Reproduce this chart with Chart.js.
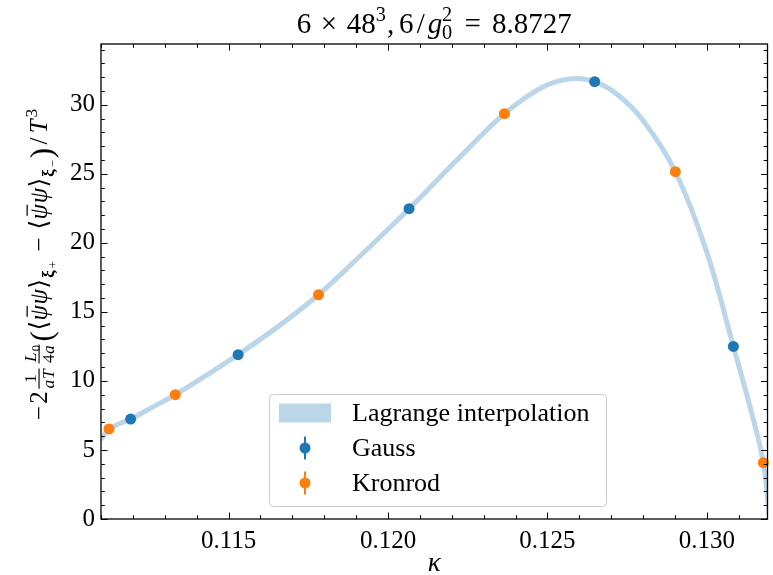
<!DOCTYPE html>
<html>
<head>
<meta charset="utf-8">
<script src="https://cdn.jsdelivr.net/npm/chart.js@4.4.1/dist/chart.umd.min.js"></script>
<style>
  html, body { margin: 0; padding: 0; background: #ffffff; }
  #c { display: block; }
</style>
</head>
<body>
<canvas id="c" width="773" height="575"></canvas>
<script>
// Gauss nodes and their measured values
const kappaGauss = [0.11193, 0.11530, 0.12066, 0.12648, 0.13083];
const valueGauss = [7.24, 11.90, 22.47, 31.67, 12.50];

// Kronrod extension nodes and their measured values
const kappaKronrod = [0.11125, 0.11333, 0.11782, 0.12365, 0.12901, 0.13177];
const valueKronrod = [6.52, 9.00, 16.24, 29.35, 25.15, 4.08];

// Samples along the interpolating polynomial
const kappaCurve = [0.11100, 0.11125, 0.11193, 0.11262, 0.11333, 0.11430, 0.11530, 0.11656,
                    0.11782, 0.11924, 0.12066, 0.12216, 0.12365, 0.12470, 0.12530, 0.12590,
                    0.12648, 0.12720, 0.12800, 0.12901, 0.13000, 0.13083, 0.13140, 0.13177,
                    0.13200];
const valueCurve = [5.75, 6.52, 7.24, 8.10, 9.00, 10.40, 11.90, 13.95,
                    16.24, 19.30, 22.47, 26.00, 29.35, 31.10, 31.70, 31.90,
                    31.67, 30.73, 28.86, 25.15, 19.30, 12.50, 7.70, 4.08,
                    -0.80];

const xTicks = [0.115, 0.120, 0.125, 0.130];
const yTicks = [0, 5, 10, 15, 20, 25, 30];
const xRange = [0.111, 0.1319];
const yRange = [0, 34.4];

const labels = {
  curve: 'Lagrange interpolation',
  gauss: 'Gauss',
  kronrod: 'Kronrod'
};

const C0 = '#1f77b4';
const C1 = '#ff7f0e';
const C0faint = 'rgba(31,119,180,0.3)';
const SERIF = '"Liberation Serif", "DejaVu Serif", serif';

function fontOf(size, italic, bold) {
  return (italic ? 'italic ' : '') + (bold ? 'bold ' : '') + size.toFixed(2) + 'px ' + SERIF;
}

// Minimal typesetter: glyph runs with optional fixed advances (em), scripts, fractions, gaps
function run(ctx, items, x, y, S, draw) {
  let cx = x;
  for (const it of items) {
    if (it.gap !== undefined) { cx += it.gap * S; continue; }
    if (it.frac) {
      const fs = S * 0.7;
      const wn = run(ctx, it.frac[0], 0, 0, fs, false);
      const wd = run(ctx, it.frac[1], 0, 0, fs, false);
      const w = it.adv ? it.adv * S : Math.max(wn, wd) + S * 0.24;
      if (draw) {
        const bar = y - S * 0.32;
        run(ctx, it.frac[0], cx + (w - wn) / 2, y - S * 0.44, fs, true);
        run(ctx, it.frac[1], cx + (w - wd) / 2, y + S * 0.27, fs, true);
        ctx.save();
        ctx.lineWidth = Math.max(1, S * 0.045);
        ctx.beginPath();
        ctx.moveTo(cx + S * 0.1, bar);
        ctx.lineTo(cx + w - S * 0.1, bar);
        ctx.stroke();
        ctx.restore();
      }
      cx += w;
      continue;
    }
    if (it.ss) {
      const fs = S * 0.7;
      ctx.font = fontOf(fs, false, false);
      const w1 = ctx.measureText(it.ss[0]).width;
      const w2 = ctx.measureText(it.ss[1]).width;
      if (draw) {
        ctx.fillText(it.ss[0], cx, y - S * 0.42);
        ctx.fillText(it.ss[1], cx, y + S * 0.22);
      }
      cx += Math.max(w1, w2) + S * 0.04;
      continue;
    }
    const fs = S * (it.s || 1);
    ctx.font = fontOf(fs, it.i, it.b);
    const w = ctx.measureText(it.t).width;
    const adv = it.adv ? it.adv * S : w;
    const gx = cx + (adv - w) / 2;
    const yy = y - (it.dy || 0) * S;
    if (draw) {
      ctx.fillText(it.t, gx, yy);
      if (it.bar) {
        ctx.save();
        ctx.lineWidth = Math.max(1, fs * 0.05);
        ctx.beginPath();
        ctx.moveTo(gx + w * 0.25, yy - fs * 0.80);
        ctx.lineTo(gx + w * 0.95, yy - fs * 0.80);
        ctx.stroke();
        ctx.restore();
      }
    }
    cx += adv;
  }
  return cx - x;
}

const titleItems = [
  { t: '6' }, { gap: 0.222 }, { t: '\u00d7', adv: 0.778 }, { gap: 0.222 }, { t: '48' },
  { t: '3', s: 0.7, dy: 0.42 }, { gap: 0.04 }, { t: ',' }, { gap: 0.167 }, { t: '6' }, { t: '/', adv: 0.5 },
  { t: 'g', i: true, adv: 0.48 }, { ss: ['2', '0'] }, { gap: 0.278 }, { t: '=', adv: 0.778 }, { gap: 0.278 },
  { t: '8.8727' }
];

const bracket = (sign) => [
  { t: '\u27e8', adv: 0.389 }, { t: '\u03c8', i: true, bar: true, adv: 0.651 },
  { t: '\u03c8', i: true, adv: 0.651 }, { t: '\u27e9', adv: 0.389 },
  { t: '\u03be', b: true, s: 0.7, dy: -0.3, adv: 0.385 }, { t: sign, s: 0.5, dy: -0.42, adv: 0.389 }
];

const yLabelItems = [
  { t: '\u2212', adv: 0.778 }, { t: '2', adv: 0.5 },
  { frac: [[{ t: '1' }], [{ t: 'a', i: true, adv: 0.53 }, { t: 'T', i: true, adv: 0.62 }]], adv: 1.02 },
  { frac: [[{ t: 'L', i: true, adv: 0.68 }, { t: '0', s: 0.72, dy: -0.25 }],
           [{ t: '4' }, { t: 'a', i: true, adv: 0.53 }]], adv: 0.97 },
  { t: '(', s: 1.25, dy: -0.22, adv: 0.458 }
].concat(bracket('+'), [{ gap: 0.222 }, { t: '\u2212', adv: 0.778 }, { gap: 0.222 }], bracket('\u2212'), [
  { t: ')', s: 1.25, dy: -0.22, adv: 0.458 }, { t: '/', adv: 0.5 }, { t: 'T', i: true, adv: 0.7 },
  { t: '3', s: 0.7, dy: 0.42, adv: 0.35 }
]);

// Frame, inward ticks on all sides, titles and the legend
const decorations = {
  id: 'decorations',
  afterDatasetsDraw(chart) {
    const ctx = chart.ctx;
    const a = chart.chartArea;
    const xs = chart.scales.x, ys = chart.scales.y;
    ctx.save();
    ctx.strokeStyle = '#000';
    ctx.fillStyle = '#000';

    const tick = (px, len, vertical) => {
      ctx.beginPath();
      if (vertical) {
        ctx.moveTo(px, a.bottom); ctx.lineTo(px, a.bottom - len);
        ctx.moveTo(px, a.top); ctx.lineTo(px, a.top + len);
      } else {
        ctx.moveTo(a.left, px); ctx.lineTo(a.left + len, px);
        ctx.moveTo(a.right, px); ctx.lineTo(a.right - len, px);
      }
      ctx.stroke();
    };
    ctx.lineWidth = 1;
    for (let k = 111; k <= 131; k++) {
      const v = k / 1000;
      const major = xTicks.some(t => Math.abs(t - v) < 1e-9);
      tick(Math.round(xs.getPixelForValue(v)) + 0.5, major ? 6.5 : 3.8, true);
    }
    for (let v = 0; v <= 34; v++) {
      const major = yTicks.includes(v);
      tick(Math.round(ys.getPixelForValue(v)) + 0.5, major ? 6.5 : 3.8, false);
    }

    ctx.lineWidth = 1.3;
    ctx.strokeRect(a.left, a.top, a.right - a.left, a.bottom - a.top);

    // title
    ctx.textBaseline = 'alphabetic';
    const TS = 29;
    const tw = run(ctx, titleItems, 0, 0, TS, false);
    run(ctx, titleItems, (a.left + a.right) / 2 - tw / 2, 33, TS, true);

    // x axis label
    ctx.font = fontOf(27, true, false);
    ctx.textAlign = 'center';
    ctx.fillText('\u03ba', (a.left + a.right) / 2, 571);
    ctx.textAlign = 'left';

    // y axis label, rotated
    const YS = 24.8;
    ctx.save();
    ctx.translate(47, 423);
    ctx.rotate(-Math.PI / 2);
    run(ctx, yLabelItems, 0, 0, YS, true);
    ctx.restore();

    // legend
    const bx = 269.5, by = 394.5, bw = 337, bh = 112, r = 4;
    ctx.beginPath();
    ctx.moveTo(bx + r, by);
    ctx.arcTo(bx + bw, by, bx + bw, by + bh, r);
    ctx.arcTo(bx + bw, by + bh, bx, by + bh, r);
    ctx.arcTo(bx, by + bh, bx, by, r);
    ctx.arcTo(bx, by, bx + bw, by, r);
    ctx.closePath();
    ctx.fillStyle = 'rgba(255,255,255,0.8)';
    ctx.fill();
    ctx.strokeStyle = '#cccccc';
    ctx.lineWidth = 1;
    ctx.stroke();

    const ds = chart.data.datasets;
    const rows = [413, 448, 483];
    ctx.fillStyle = ds[0].borderColor;
    ctx.fillRect(279, rows[0] - 9.5, 52, 19);
    [1, 2].forEach(i => {
      const yy = rows[i];
      ctx.strokeStyle = ds[i].backgroundColor;
      ctx.lineWidth = 2;
      ctx.beginPath();
      ctx.moveTo(305, yy - 11.5); ctx.lineTo(305, yy + 11.5);
      ctx.stroke();
      ctx.fillStyle = ds[i].backgroundColor;
      ctx.beginPath();
      ctx.arc(305, yy, 5.5, 0, Math.PI * 2);
      ctx.fill();
    });
    ctx.fillStyle = '#000';
    ctx.font = fontOf(26, false, false);
    ctx.textBaseline = 'middle';
    ds.forEach((d, i) => ctx.fillText(d.label, 352, rows[i] + 1));
    ctx.restore();
  }
};

const pts = (xs, ys) => xs.map((k, i) => ({ x: k, y: ys[i] }));

new Chart(document.getElementById('c'), {
  type: 'scatter',
  data: {
    datasets: [
      {
        label: labels.curve,
        type: 'line',
        data: pts(kappaCurve, valueCurve),
        borderColor: C0faint,
        backgroundColor: C0faint,
        borderWidth: 5,
        pointRadius: 0,
        fill: false,
        tension: 0.35,
        order: 3
      },
      {
        label: labels.gauss,
        data: pts(kappaGauss, valueGauss),
        backgroundColor: C0,
        borderColor: C0,
        pointRadius: 5.5,
        pointHoverRadius: 5.5,
        borderWidth: 0,
        clip: false,
        order: 2
      },
      {
        label: labels.kronrod,
        data: pts(kappaKronrod, valueKronrod),
        backgroundColor: C1,
        borderColor: C1,
        pointRadius: 5.5,
        pointHoverRadius: 5.5,
        borderWidth: 0,
        clip: false,
        order: 1
      }
    ]
  },
  options: {
    responsive: false,
    animation: false,
    devicePixelRatio: 1,
    layout: { padding: { left: 0, top: 44, right: 1, bottom: 0 } },
    plugins: {
      legend: { display: false },
      title: { display: false },
      tooltip: { enabled: false }
    },
    scales: {
      x: {
        type: 'linear',
        min: xRange[0],
        max: xRange[1],
        grid: { display: false, drawTicks: false },
        border: { display: false },
        afterBuildTicks: s => { s.ticks = xTicks.map(v => ({ value: v })); },
        afterFit: s => { s.height = 56; },
        ticks: {
          color: '#000',
          font: { family: SERIF, size: 25 },
          padding: 7,
          autoSkip: false,
          maxRotation: 0,
          callback: v => Number(v).toFixed(3)
        }
      },
      y: {
        type: 'linear',
        min: yRange[0],
        max: yRange[1],
        grid: { display: false, drawTicks: false },
        border: { display: false },
        afterBuildTicks: s => { s.ticks = yTicks.map(v => ({ value: v })); },
        afterFit: s => { s.width = 101; },
        ticks: {
          color: '#000',
          font: { family: SERIF, size: 25 },
          padding: 6,
          autoSkip: false,
          callback: v => String(v)
        }
      }
    }
  },
  plugins: [decorations]
});
</script>
</body>
</html>
